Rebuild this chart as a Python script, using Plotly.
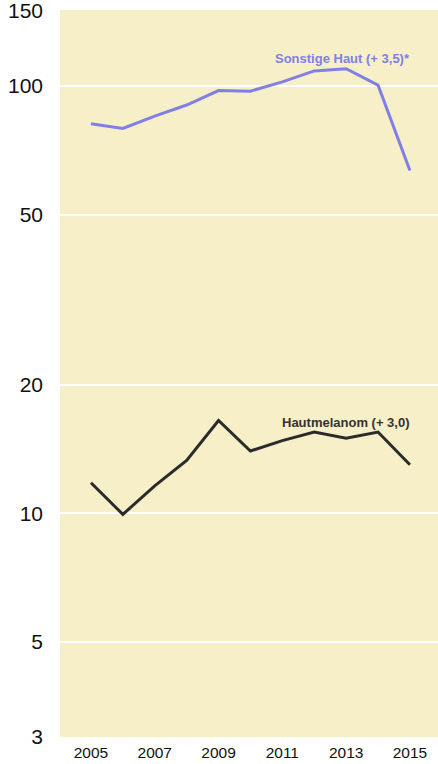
import math
import plotly.graph_objects as go

years = list(range(2005, 2016))
sonstige = [81.6, 79.5, 85.0, 90.2, 97.5, 97.2, 102.2, 108.4, 109.7, 100.4, 63.4]
melanom = [11.8, 9.95, 11.6, 13.3, 16.5, 14.0, 14.8, 15.5, 15.0, 15.5, 13.0]
y_ticks = [3, 5, 10, 20, 50, 100, 150]
x_ticks = [2005, 2007, 2009, 2011, 2013, 2015]

purple = "#7f7fe6"
dark = "#2b2b2b"
font_family = "Liberation Sans, Arial, sans-serif"

fig = go.Figure()
fig.add_trace(go.Scatter(x=years, y=sonstige, mode="lines",
                         line=dict(color=purple, width=3), showlegend=False, hoverinfo="skip"))
fig.add_trace(go.Scatter(x=years, y=melanom, mode="lines",
                         line=dict(color=dark, width=3), showlegend=False, hoverinfo="skip"))

fig.add_annotation(x=2015.05, y=math.log10(116), xref="x", yref="y",
                   text="<b>Sonstige Haut (+ 3,5)*</b>",
                   showarrow=False, xanchor="right", yanchor="middle",
                   font=dict(family=font_family, size=13, color=purple))
fig.add_annotation(x=2015.05, y=math.log10(16.3), xref="x", yref="y",
                   text="<b>Hautmelanom (+ 3,0)</b>",
                   showarrow=False, xanchor="right", yanchor="middle",
                   font=dict(family=font_family, size=13, color="#333333"))

fig.update_layout(
    width=438, height=764,
    margin=dict(l=60, r=0, t=10, b=27),
    paper_bgcolor="white",
    plot_bgcolor="#f7efc8",
    font=dict(family=font_family, color="#111111"),
    xaxis=dict(range=[2004.03, 2015.88], tickvals=x_ticks, ticktext=[str(v) for v in x_ticks],
               showgrid=False, zeroline=False, showline=False, ticks="",
               tickfont=dict(size=15.5), ticklabelstandoff=4, automargin=False,
               ticklabeloverflow="allow"),
    yaxis=dict(type="log", range=[0.4771, 2.1775], tickvals=y_ticks,
               ticktext=[str(v) for v in y_ticks],
               showgrid=True, gridcolor="white", gridwidth=2, zeroline=False, showline=False,
               ticks="", tickfont=dict(size=21), ticklabelstandoff=16, automargin=False,
               ticklabeloverflow="allow"),
)

fig.write_html("out.html", config={"displayModeBar": False},
               post_script="document.body.style.margin='0px';document.body.style.overflow='hidden';")
